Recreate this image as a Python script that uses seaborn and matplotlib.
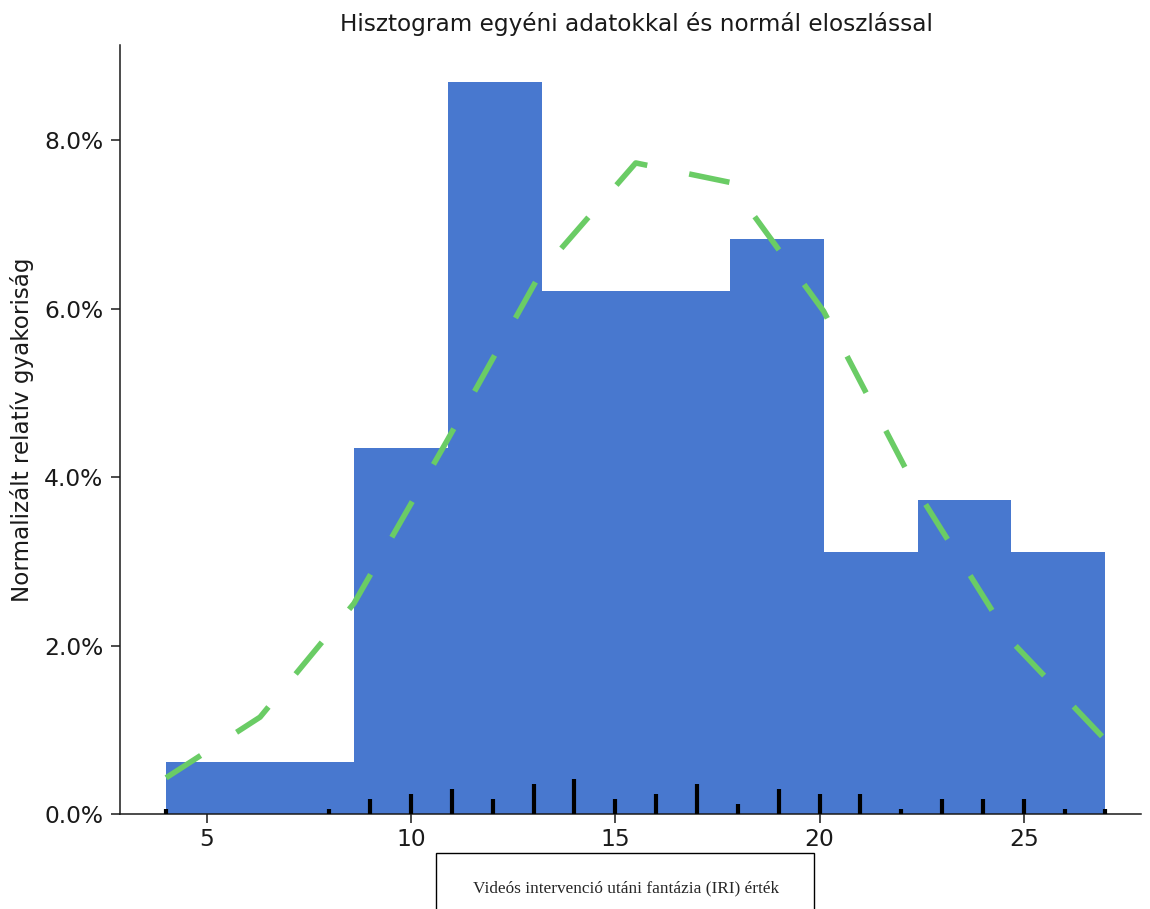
import numpy as np
import matplotlib
matplotlib.use("Agg")
import matplotlib.pyplot as plt
from matplotlib.patches import Rectangle
from matplotlib.ticker import PercentFormatter
import seaborn as sns

# IRI fantasy scores after the video intervention: observed value and how many times it occurs
score_values = [4, 8, 9, 10, 11, 12, 13, 14, 15, 16, 17, 18, 19, 20, 21, 22, 23, 24, 25, 26, 27]
score_counts = [1, 1, 3, 4, 5, 3, 6, 7, 3, 4, 6, 2, 5, 4, 4, 1, 3, 3, 3, 1, 1]

# fitted normal density, sampled at the histogram bin edges
normal_density = [0.0043, 0.0115, 0.0250, 0.0445, 0.0645, 0.0773,
                  0.0750, 0.0597, 0.0383, 0.0205, 0.0088]

n_bins = 10
title = "Hisztogram egyéni adatokkal és normál eloszlással"
xlabel = "Videós intervenció utáni fantázia (IRI) érték"
ylabel = "Normalizált relatív gyakoriság"

bar_color = "#4878CF"
curve_color = "#6ACC65"
rug_step = 0.0006  # rug height per observation

sns.set_style("ticks")
plt.rcParams["font.family"] = ["DejaVu Sans"]

fig = plt.figure(figsize=(11.5, 9.09), dpi=100)
ax = fig.add_axes([0.1043, 0.1045, 0.8878, 0.846])

scores = np.repeat(score_values, score_counts)
sns.histplot(x=scores, bins=n_bins, stat="density", color=bar_color,
             alpha=1.0, linewidth=0, ax=ax)

edges = np.histogram_bin_edges(scores, bins=n_bins)
sns.lineplot(x=edges, y=normal_density, color=curve_color, linewidth=4,
             linestyle=(0, (7.4, 7.7)), sort=False, estimator=None, ax=ax)

# rug: one tick per distinct score, taller where the score is more frequent
ax.vlines(score_values, 0, np.array(score_counts) * rug_step,
          colors="black", linewidth=3.0, zorder=4)

ax.set_xlim(2.87, 27.87)
ax.yaxis.set_major_formatter(PercentFormatter(xmax=1, decimals=1))
ax.set_xticks([5, 10, 15, 20, 25])
ax.set_yticks([0, 0.02, 0.04, 0.06, 0.08])
ax.tick_params(axis="both", labelsize=16.8, length=6.5, width=1.1, colors="#1a1a1a")
ax.tick_params(axis="y", pad=5.5)
for spine in ("left", "bottom"):
    ax.spines[spine].set_linewidth(1.1)
    ax.spines[spine].set_color("#1a1a1a")
sns.despine(ax=ax)

ax.set_title(title, fontsize=16.7, pad=10, x=0.506, color="#1a1a1a")
ax.set_ylabel(ylabel, fontsize=16.6, va="center", color="#1a1a1a")
ax.yaxis.set_label_coords(-0.096, 0.5)

ax.set_xlabel(xlabel, fontsize=12.4, family="Liberation Serif", va="center")
ax.xaxis.set_label_coords(0.4956, -0.0962)
fig.patches.append(Rectangle((436 / 1150, -0.05), 378 / 1150, 0.1116,
                             transform=fig.transFigure, fill=False,
                             edgecolor="black", linewidth=1.0))

fig.savefig("out.png", dpi=100)
